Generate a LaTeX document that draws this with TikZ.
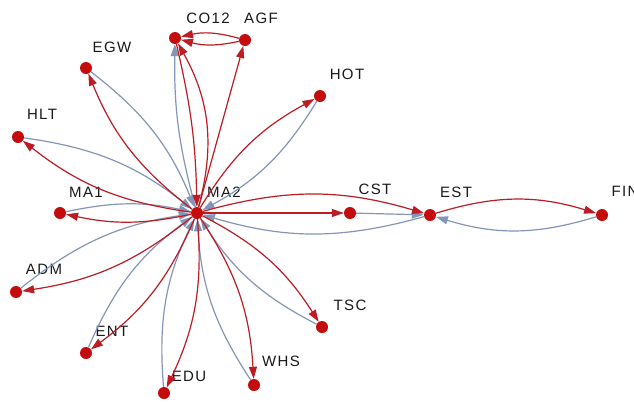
\documentclass[tikz,border=0pt]{standalone}
\usepackage{fontspec}
\setmainfont{Liberation Sans}
\newfontfamily\labfont[LetterSpace=9]{Liberation Sans}
\usetikzlibrary{arrows.meta}
\definecolor{dotred}{RGB}{196,12,12}
\definecolor{edgered}{RGB}{188,28,36}
\definecolor{edgeblue}{RGB}{132,150,184}
\tikzset{
  vert/.style={circle,fill=dotred,inner sep=0pt,minimum size=12pt},
  lab/.style={font=\labfont\fontsize{15}{15}\selectfont,inner sep=0pt,text=black!90},
  redge/.style={draw=edgered,line width=1.2pt,-{Triangle[length=12pt,width=8pt]}},
  bedge/.style={draw=edgeblue,line width=1.2pt,-{Triangle[length=12pt,width=8pt]}}
}
\begin{document}
\begin{tikzpicture}[x=1pt,y=-1pt]
\useasboundingbox[fill=white] (0,0) rectangle (634,402);
% vertices
\node[vert] (MA2) at (197,213) {};
\node[vert] (CO12) at (175,38) {};
\node[vert] (AGF) at (245,40) {};
\node[vert] (EGW) at (86,68) {};
\node[vert] (HOT) at (320,96) {};
\node[vert] (HLT) at (18,137) {};
\node[vert] (MA1) at (60,213) {};
\node[vert] (CST) at (350,213) {};
\node[vert] (EST) at (430,215) {};
\node[vert] (FIN) at (602,215) {};
\node[vert] (ADM) at (16,292) {};
\node[vert] (ENT) at (86,353) {};
\node[vert] (EDU) at (164,393) {};
\node[vert] (WHS) at (254,385) {};
\node[vert] (TSC) at (322,327) {};
% labels
\node[lab] (lCO12) at (208,18) {CO12};
\node[lab] (lAGF) at (261,18) {AGF};
\node[lab] (lEGW) at (112,47) {EGW};
\node[lab] (lHOT) at (347,74) {HOT};
\node[lab] (lHLT) at (42,114) {HLT};
\node[lab] (lMA1) at (86,192) {MA1};
\node[lab] (lMA2) at (224,192) {MA2};
\node[lab] (lCST) at (375,189) {CST};
\node[lab] (lEST) at (456,192) {EST};
\node[lab] (lFIN) at (625,191) {FIN};
\node[lab] (lADM) at (44,269) {ADM};
\node[lab] (lENT) at (112,331) {ENT};
\node[lab] (lEDU) at (189,376) {EDU};
\node[lab] (lWHS) at (281,361) {WHS};
\node[lab] (lTSC) at (350,305) {TSC};
% blue edges
\draw[bedge] (EGW) to[bend left=15] (MA2);
\draw[bedge] (HLT) to[bend left=15] (MA2);
\draw[bedge] (MA1) to[bend left=12] (MA2);
\draw[bedge] (ADM) to[bend left=15] (MA2);
\draw[bedge] (ENT) to[bend left=15] (MA2);
\draw[bedge] (EDU) to[bend left=15] (MA2);
\draw[bedge] (WHS) to[bend left=15] (MA2);
\draw[bedge] (TSC) to[bend left=15] (MA2);
\draw[bedge] (HOT) to[bend left=15] (MA2);
\draw[bedge] (EST) to[bend left=16] (MA2);
\draw[bedge] (FIN) to[bend left=17] (EST);
\draw[bedge] (CST) -- (EST);
\draw[bedge] (MA2) to[bend left=8] (CO12);
% red edges
\draw[redge] (MA2) to[bend left=15] (EGW);
\draw[redge] (MA2) to[bend left=15] (HLT);
\draw[redge] (MA2) to[bend left=12] (MA1);
\draw[redge] (MA2) to[bend left=15] (ADM);
\draw[redge] (MA2) to[bend left=15] (ENT);
\draw[redge] (MA2) to[bend left=15] (EDU);
\draw[redge] (MA2) to[bend left=15] (WHS);
\draw[redge] (MA2) to[bend left=15] (TSC);
\draw[redge] (MA2) to[bend left=15] (HOT);
\draw[redge] (MA2) to[bend left=16] (EST);
\draw[redge] (EST) to[bend left=17] (FIN);
\draw[redge] (MA2) -- (CST);
\draw[redge] (MA2) -- (AGF);
\draw[redge] (CO12) to[bend left=6] (MA2);
\draw[redge] (MA2) to[bend right=22] (CO12);
\draw[redge] (AGF) to[bend left=14] (CO12);
\draw[redge] (AGF) to[bend right=14] (CO12);
\end{tikzpicture}
\end{document}
